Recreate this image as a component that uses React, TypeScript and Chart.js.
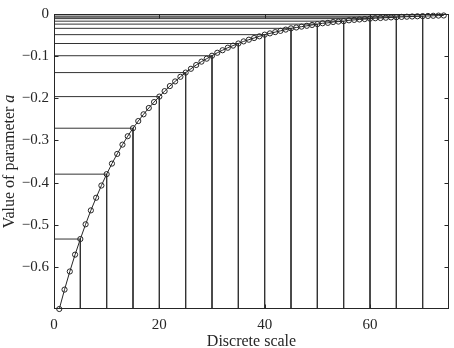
import React, { useEffect, useRef } from "react";
import { Chart, registerables } from "chart.js";

Chart.register(...registerables);

// Discrete scale positions (x) and the parameter value at each
const steps = [
  1, 2, 3, 4, 5, 6, 7, 8, 9, 10, 11, 12, 13, 14, 15, 16, 17, 18, 19, 20,
  21, 22, 23, 24, 25, 26, 27, 28, 29, 30, 31, 32, 33, 34, 35, 36, 37, 38, 39, 40,
  41, 42, 43, 44, 45, 46, 47, 48, 49, 50, 51, 52, 53, 54, 55, 56, 57, 58, 59, 60,
  61, 62, 63, 64, 65, 66, 67, 68, 69, 70, 71, 72, 73, 74,
];
const paramValues = [
  -0.7, -0.654, -0.611, -0.571, -0.534, -0.499, -0.466, -0.436, -0.407, -0.38,
  -0.355, -0.332, -0.31, -0.29, -0.271, -0.254, -0.238, -0.223, -0.209, -0.196,
  -0.183, -0.171, -0.16, -0.149, -0.139, -0.13, -0.121, -0.113, -0.106, -0.099,
  -0.092, -0.086, -0.08, -0.075, -0.07, -0.065, -0.061, -0.057, -0.053, -0.049,
  -0.046, -0.043, -0.04, -0.037, -0.034, -0.032, -0.03, -0.028, -0.026, -0.024,
  -0.022, -0.021, -0.019, -0.018, -0.017, -0.015, -0.014, -0.013, -0.012, -0.011,
  -0.01, -0.0095, -0.0088, -0.0081, -0.0075, -0.0069, -0.0064, -0.0059, -0.0054, -0.005,
  -0.0046, -0.0042, -0.0038, -0.0035,
];
// Steps that get drop lines to both axes
const markedSteps = [5, 10, 15, 20, 25, 30, 35, 40, 45, 50, 55, 60, 65, 70];

const xTickValues = [0, 20, 40, 60];
const xTickLabels = ["0", "20", "40", "60"];
const yTickValues = [0, -0.1, -0.2, -0.3, -0.4, -0.5, -0.6];
const yTickLabels = ["0", "\u22120.1", "\u22120.2", "\u22120.3", "\u22120.4", "\u22120.5", "\u22120.6"];

const X_MIN = 0;
const X_MAX = 75;
const Y_MIN = -0.7;
const Y_MAX = 0;

const xTitle = "Discrete scale";
const yTitleMain = "Value of parameter ";
const yTitleItalic = "a";

const FONT = "'Liberation Serif', 'DejaVu Serif', serif";
const INK = "#262626";

const framePlugin = {
  id: "frameAndTitles",
  afterDatasetsDraw(chart: any) {
    const { ctx, chartArea } = chart;
    const xs = chart.scales.x;
    const ys = chart.scales.y;
    const l = Math.round(chartArea.left) + 0.5;
    const r = Math.round(chartArea.right) - 0.5;
    const t = Math.round(chartArea.top) + 0.5;
    const b = Math.round(chartArea.bottom) - 0.5;
    ctx.save();
    ctx.strokeStyle = INK;
    ctx.lineWidth = 1;
    ctx.strokeRect(l, t, r - l, b - t);
    const tl = 4;
    ctx.beginPath();
    yTickValues.forEach((v) => {
      const y = Math.round(ys.getPixelForValue(v)) + 0.5;
      ctx.moveTo(l, y);
      ctx.lineTo(l + tl, y);
      ctx.moveTo(r, y);
      ctx.lineTo(r - tl, y);
    });
    xTickValues.forEach((v) => {
      const x = Math.round(xs.getPixelForValue(v)) + 0.5;
      ctx.moveTo(x, b);
      ctx.lineTo(x, b - tl);
      ctx.moveTo(x, t);
      ctx.lineTo(x, t + tl);
    });
    ctx.stroke();
    ctx.restore();
  },
  afterDraw(chart: any) {
    const { ctx, chartArea } = chart;
    ctx.save();
    ctx.fillStyle = INK;
    // x title
    ctx.font = `16px ${FONT}`;
    ctx.textAlign = "center";
    ctx.textBaseline = "alphabetic";
    ctx.fillText(xTitle, (chartArea.left + chartArea.right) / 2, 346);
    // y title
    const cy = (chartArea.top + chartArea.bottom) / 2;
    ctx.translate(13.5, cy);
    ctx.rotate(-Math.PI / 2);
    ctx.font = `16px ${FONT}`;
    const w1 = ctx.measureText(yTitleMain).width;
    ctx.font = `italic 16px ${FONT}`;
    const w2 = ctx.measureText(yTitleItalic).width;
    const start = -(w1 + w2) / 2;
    ctx.textAlign = "left";
    ctx.font = `16px ${FONT}`;
    ctx.fillText(yTitleMain, start, 0);
    ctx.font = `italic 16px ${FONT}`;
    ctx.fillText(yTitleItalic, start + w1, 0);
    ctx.restore();
  },
};

export default function App() {
  const canvasRef = useRef<HTMLCanvasElement | null>(null);

  useEffect(() => {
    document.body.style.margin = "0";
    const canvas = canvasRef.current;
    if (!canvas) return;

    const dropLines = markedSteps.map((s) => {
      const v = paramValues[steps.indexOf(s)];
      return {
        data: [
          { x: X_MIN, y: v },
          { x: s, y: v },
          { x: s, y: Y_MIN },
        ],
        borderColor: "#333333",
        borderWidth: 1,
        pointRadius: 0,
        showLine: true,
        fill: false,
        tension: 0,
      };
    });

    const chart = new Chart(canvas, {
      type: "scatter",
      data: {
        datasets: [
          {
            data: steps.map((s, i) => ({ x: s, y: paramValues[i] })),
            borderColor: INK,
            borderWidth: 1,
            showLine: true,
            tension: 0,
            pointRadius: 2.6,
            pointBorderWidth: 1,
            pointBorderColor: INK,
            pointBackgroundColor: "rgba(0,0,0,0)",
            clip: false,
          } as any,
          ...(dropLines as any[]),
        ],
      },
      plugins: [framePlugin],
      options: {
        animation: false,
        responsive: false,
        devicePixelRatio: 1,
        layout: { padding: { top: 12, right: 3, left: 0, bottom: 0 } },
        plugins: {
          legend: { display: false },
          tooltip: { enabled: false },
        },
        scales: {
          x: {
            type: "linear",
            min: X_MIN,
            max: X_MAX,
            grid: { display: false, drawTicks: false },
            border: { display: false },
            afterBuildTicks: (s: any) => {
              s.ticks = xTickValues.map((v) => ({ value: v }));
            },
            afterFit: (s: any) => {
              s.height = 39;
            },
            ticks: {
              autoSkip: false,
              maxRotation: 0,
              padding: 7,
              color: INK,
              font: { family: FONT, size: 15 },
              callback: (v: any) => xTickLabels[xTickValues.indexOf(Number(v))],
            },
          },
          y: {
            type: "linear",
            min: Y_MIN,
            max: Y_MAX,
            grid: { display: false, drawTicks: false },
            border: { display: false },
            afterBuildTicks: (s: any) => {
              s.ticks = yTickValues.map((v) => ({ value: v }));
            },
            afterFit: (s: any) => {
              s.width = 54;
            },
            ticks: {
              autoSkip: false,
              padding: 5,
              color: INK,
              font: { family: FONT, size: 15 },
              callback: (v: any) => {
                const idx = yTickValues.findIndex((t) => Math.abs(t - Number(v)) < 1e-9);
                return idx >= 0 ? yTickLabels[idx] : "";
              },
            },
          },
        },
      } as any,
    });

    return () => chart.destroy();
  }, []);

  return (
    <div style={{ width: 454, height: 348, background: "#fff" }}>
      <canvas ref={canvasRef} width={454} height={348} style={{ display: "block", width: 454, height: 348 }} />
    </div>
  );
}
